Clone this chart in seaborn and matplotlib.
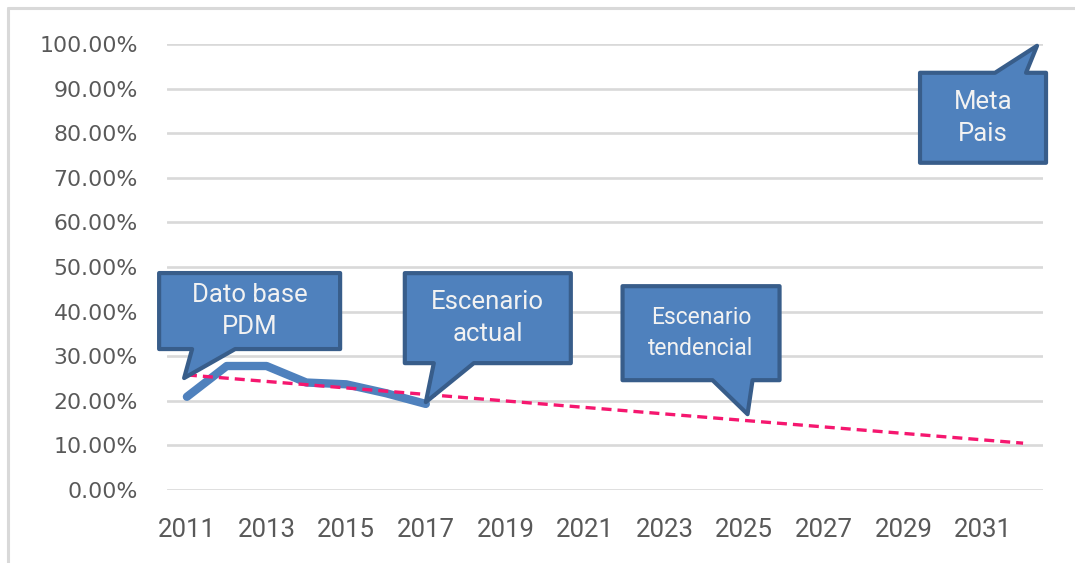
import matplotlib
matplotlib.use("Agg")
import matplotlib.pyplot as plt
import matplotlib.transforms as mtransforms
from matplotlib.patches import Polygon
from matplotlib.lines import Line2D
from matplotlib.ticker import FuncFormatter, FixedLocator
import seaborn as sns
import pandas as pd

# ---------------- data ----------------
actual_years = [2011, 2012, 2013, 2014, 2015, 2016, 2017]
actual_values = [0.209, 0.278, 0.278, 0.241, 0.237, 0.217, 0.193]

trend_years = [2011, 2032]
trend_values = [0.258, 0.105]

tick_years = [2011, 2013, 2015, 2017, 2019, 2021, 2023, 2025, 2027, 2029, 2031]
y_ticks = [0.0, 0.1, 0.2, 0.3, 0.4, 0.5, 0.6, 0.7, 0.8, 0.9, 1.0]

callout_texts = ["Dato base\nPDM", "Escenario\nactual", "Escenario\ntendencial", "Meta\nPais"]
callout_tips_x = [2010.93, 2017.0, 2025.08, 2032.35]
callout_tips_y = [0.251, 0.197, 0.170, 0.996]

# ---------------- style ----------------
sns.set_theme(style="white")
plt.rcParams['font.family'] = ['DejaVu Sans']

W, H, DPI = 1075, 563, 100
fig = plt.figure(figsize=(W / DPI, H / DPI), dpi=DPI)
fig.patch.set_facecolor("white")

left, right = 167 / W, 1043 / W
bottom, top = (H - 490) / H, (H - 44) / H
ax = fig.add_axes([left, bottom, right - left, top - bottom])

df_actual = pd.DataFrame({"year": actual_years, "value": actual_values})
df_trend = pd.DataFrame({"year": trend_years, "value": trend_values})

grid_color = "#D9D9D9"
for yv in y_ticks:
    ax.axhline(yv, color=grid_color, lw=1.9, zorder=0)

sns.lineplot(data=df_actual, x="year", y="value", ax=ax, color="#4F81BD",
             linewidth=6.0, solid_capstyle="round", solid_joinstyle="round",
             zorder=3, legend=False)
sns.lineplot(data=df_trend, x="year", y="value", ax=ax, color="#F5176F",
             linewidth=2.4, zorder=4, legend=False)
ax.lines[-1].set_dashes((3.0, 1.8))

ax.set_xlim(2010.5, 2032.5)
ax.set_ylim(0, 1)
ax.xaxis.set_major_locator(FixedLocator(tick_years))
ax.yaxis.set_major_locator(FixedLocator(y_ticks))
ax.xaxis.set_major_formatter(FuncFormatter(lambda v, p: f"{int(round(v))}"))
ax.yaxis.set_major_formatter(FuncFormatter(lambda v, p: f"{v*100:.2f}%"))
ax.set_xlabel("")
ax.set_ylabel("")
for s in ax.spines.values():
    s.set_visible(False)
ax.tick_params(axis="both", length=0)
ax.tick_params(axis="y", pad=21, labelsize=15.8, labelcolor="#595959")
ax.tick_params(axis="x", pad=20, labelsize=18.5, labelcolor="#595959")
for lab in ax.get_xticklabels():
    lab.set_fontfamily("Roboto")
ax.grid(False)

# outer frame (top and left visible)
fig.add_artist(Line2D([8 / W, 8 / W], [0, (H - 8) / H], transform=fig.transFigure,
                      color="#D9D9D9", lw=2.2))
fig.add_artist(Line2D([8 / W, 1], [(H - 8) / H, (H - 8) / H], transform=fig.transFigure,
                      color="#D9D9D9", lw=2.2))

# ---------------- callouts ----------------
# box: (left, right, top, bottom) offsets in pixels from tip (image y downward)
# tail: (x0, x1) offsets of tail base; side = 'bottom' or 'top'
geoms = [
    dict(box=(-25, 156, -105, -29), tail=(8, 51), side="bottom", size=18.5),
    dict(box=(-21, 145, -129, -39), tail=(8, 48), side="bottom", size=18.5),
    dict(box=(-125, 32, -128, -34), tail=(-35, 5), side="bottom", size=16.5),
    dict(box=(-117, 9, 27, 117), tail=(-42, -11), side="top", size=18.5),
]

ident = mtransforms.IdentityTransform()
for text, tx, ty, g in zip(callout_texts, callout_tips_x, callout_tips_y, geoms):
    px, py = ax.transData.transform((tx, ty))
    l, r, t, b = g["box"]
    t0, t1 = g["tail"]

    def P(dx, dy):
        return (px + dx, py - dy)

    if g["side"] == "bottom":
        pts = [P(l, t), P(r, t), P(r, b), P(t1, b), P(0, 0), P(t0, b), P(l, b)]
    else:
        pts = [P(l, t), P(t0, t), P(0, 0), P(t1, t), P(r, t), P(r, b), P(l, b)]
    poly = Polygon(pts, closed=True, transform=ident, facecolor="#4F81BD",
                   edgecolor="#385D8A", lw=3.0, joinstyle="round", zorder=10)
    fig.add_artist(poly)
    cx, cy = P((l + r) / 2, (t + b) / 2)
    fig.text(cx, cy, text, transform=ident, ha="center", va="center",
             color="#F2F2F2", fontsize=g["size"], fontfamily="Roboto",
             linespacing=1.42, zorder=11)

fig.savefig("out.png", dpi=DPI)
